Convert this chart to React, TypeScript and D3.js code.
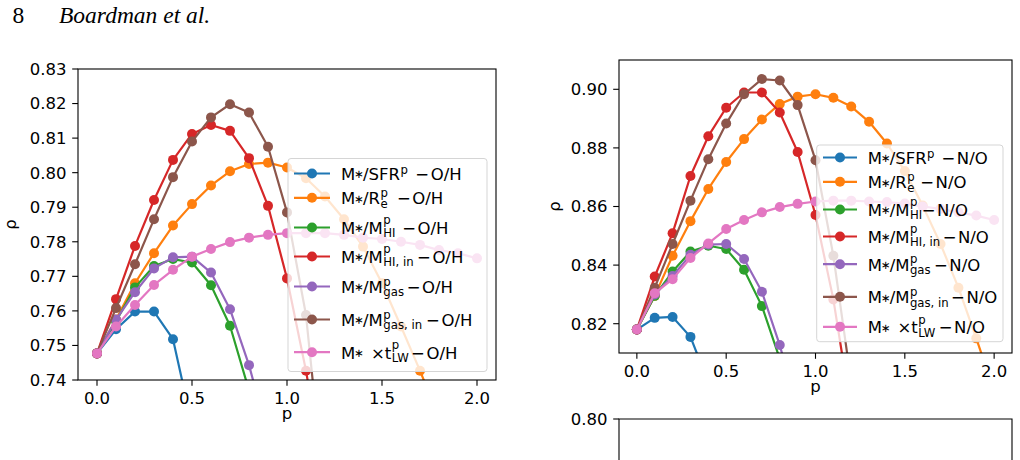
import React from 'react';
import * as d3 from 'd3';

// ---------------- data ----------------
const P = [0.0, 0.1, 0.2, 0.3, 0.4, 0.5, 0.6, 0.7, 0.8, 0.9, 1.0, 1.1, 1.2, 1.3, 1.4, 1.5, 1.6, 1.7, 1.8, 1.9, 2.0];

// O/H panel (values below the axis floor are only kept up to the first clipped point)
const OH_SFR = [0.7477, 0.7547, 0.7598, 0.7598, 0.7518, 0.727, 0.70];
const OH_RE = [0.7477, 0.7575, 0.768, 0.7767, 0.7847, 0.7909, 0.7963, 0.8004, 0.8025, 0.8029, 0.8015, 0.7984, 0.7931, 0.7865, 0.7786, 0.768, 0.7555, 0.7427, 0.729];
const OH_HI = [0.7477, 0.757, 0.7668, 0.773, 0.775, 0.774, 0.7674, 0.7557, 0.737, 0.715];
const OH_HIIN = [0.7477, 0.7634, 0.7788, 0.7921, 0.8037, 0.8112, 0.8138, 0.8121, 0.8042, 0.7904, 0.7694, 0.7427, 0.71];
const OH_GAS = [0.7477, 0.7575, 0.7654, 0.7723, 0.7755, 0.7757, 0.7711, 0.7605, 0.7443, 0.724];
const OH_GASIN = [0.7477, 0.7608, 0.7735, 0.7865, 0.7987, 0.809, 0.816, 0.8198, 0.8174, 0.8075, 0.7885, 0.7588, 0.705];
const OH_TLW = [0.7477, 0.7555, 0.7617, 0.7675, 0.7719, 0.7757, 0.7779, 0.7799, 0.7812, 0.782, 0.7825, 0.7825, 0.7825, 0.782, 0.7812, 0.7808, 0.78, 0.7791, 0.7776, 0.7767, 0.7752];

// N/O panel
const NO_SFR = [0.818, 0.822, 0.8223, 0.8155, 0.80, 0.785];
const NO_RE = [0.818, 0.8295, 0.8432, 0.855, 0.866, 0.8752, 0.883, 0.8897, 0.895, 0.8975, 0.8983, 0.8971, 0.8941, 0.8889, 0.8815, 0.8721, 0.8603, 0.8472, 0.8323, 0.815, 0.797];
const NO_HI = [0.818, 0.8295, 0.8378, 0.8446, 0.8466, 0.8455, 0.8384, 0.826, 0.808, 0.785];
const NO_HIIN = [0.818, 0.8361, 0.8509, 0.8704, 0.884, 0.8937, 0.8989, 0.8989, 0.8921, 0.8786, 0.8571, 0.8283, 0.79];
const NO_GAS = [0.818, 0.83, 0.8363, 0.8435, 0.847, 0.8472, 0.8421, 0.8309, 0.8127, 0.79];
const NO_GASIN = [0.818, 0.8323, 0.8472, 0.862, 0.8761, 0.8883, 0.8983, 0.9035, 0.903, 0.8946, 0.8758, 0.8432, 0.80];
const NO_TLW = [0.818, 0.8304, 0.8352, 0.8424, 0.8474, 0.8523, 0.8554, 0.858, 0.8598, 0.8609, 0.8617, 0.862, 0.862, 0.8617, 0.8615, 0.861, 0.86, 0.8592, 0.858, 0.8569, 0.8554];

const OH_SERIES = [OH_SFR, OH_RE, OH_HI, OH_HIIN, OH_GAS, OH_GASIN, OH_TLW];
const NO_SERIES = [NO_SFR, NO_RE, NO_HI, NO_HIIN, NO_GAS, NO_GASIN, NO_TLW];

const COLORS = ['#1f77b4', '#ff7f0e', '#2ca02c', '#d62728', '#9467bd', '#8c564b', '#e377c2'];

const X_TICKS = [0.0, 0.5, 1.0, 1.5, 2.0];
const OH_Y_TICKS = [0.74, 0.75, 0.76, 0.77, 0.78, 0.79, 0.80, 0.81, 0.82, 0.83];
const NO_Y_TICKS = [0.82, 0.84, 0.86, 0.88, 0.90];
const LOWER_Y_TICKS = [0.80];

type Tok = { k: 'n'; t: string } | { k: 'ast' } | { k: 'times' } | { k: 's'; sup: string; sub?: string };
const LABEL_TOKENS: Tok[][] = [
  [{ k: 'n', t: 'M' }, { k: 'ast' }, { k: 'n', t: '/SFR' }, { k: 's', sup: 'p' }],
  [{ k: 'n', t: 'M' }, { k: 'ast' }, { k: 'n', t: '/R' }, { k: 's', sup: 'p', sub: 'e' }],
  [{ k: 'n', t: 'M' }, { k: 'ast' }, { k: 'n', t: '/M' }, { k: 's', sup: 'p', sub: 'HI' }],
  [{ k: 'n', t: 'M' }, { k: 'ast' }, { k: 'n', t: '/M' }, { k: 's', sup: 'p', sub: 'HI, in' }],
  [{ k: 'n', t: 'M' }, { k: 'ast' }, { k: 'n', t: '/M' }, { k: 's', sup: 'p', sub: 'gas' }],
  [{ k: 'n', t: 'M' }, { k: 'ast' }, { k: 'n', t: '/M' }, { k: 's', sup: 'p', sub: 'gas, in' }],
  [{ k: 'n', t: 'M' }, { k: 'ast' }, { k: 'times' }, { k: 'n', t: 't' }, { k: 's', sup: 'p', sub: 'LW' }],
];

// ---------------- layout ----------------
const W = 1020;
const H = 460;
const FONT = '"DejaVu Sans", sans-serif';
const FS = 16.5;
const SFS = 11.7;
const LW = 2.2;
const MR = 5;
const TICK = 5.8;
const PAD = 5.8;

let _ctx: CanvasRenderingContext2D | null = null;
function tw(s: string, size: number): number {
  if (!_ctx) _ctx = document.createElement('canvas').getContext('2d');
  if (!_ctx) return s.length * size * 0.6;
  _ctx.font = `${size}px "DejaVu Sans"`;
  return _ctx.measureText(s).width;
}

function renderLabel(tokens: Tok[], suffix: string, gap: number, x: number, y: number, key: string) {
  const out: React.ReactNode[] = [];
  let cx = x;
  tokens.forEach((tok, i) => {
    if (tok.k === 'n') {
      out.push(<text key={key + i} x={cx} y={y} fontSize={FS}>{tok.t}</text>);
      cx += tw(tok.t, FS);
    } else if (tok.k === 'ast') {
      out.push(<text key={key + i} x={cx + 3.9} y={y - 1.6} fontSize={SFS} textAnchor="middle">∗</text>);
      cx += 7.7;
    } else if (tok.k === 'times') {
      cx += 7.9;
      out.push(<text key={key + i} x={cx} y={y} fontSize={FS}>×</text>);
      cx += tw('×', FS);
    } else {
      const hasSub = !!tok.sub;
      const capsSub = hasSub && /[A-Z]/.test(tok.sub as string);
      const raise = hasSub ? (capsSub ? 9.8 : 7.4) : 5.8;
      const sx = cx + 0.5;
      out.push(<text key={key + i + 'p'} x={sx} y={y - raise} fontSize={SFS}>{tok.sup}</text>);
      let w = tw(tok.sup, SFS);
      if (hasSub) {
        out.push(<text key={key + i + 'b'} x={sx} y={y + 3.2} fontSize={SFS}>{tok.sub}</text>);
        w = Math.max(w, tw(tok.sub as string, SFS));
      }
      cx = sx + w;
    }
  });
  cx += gap;
  out.push(<text key={key + 'm'} x={cx} y={y} fontSize={FS}>−</text>);
  cx += tw('−', FS) + 1.5;
  out.push(<text key={key + 's'} x={cx} y={y} fontSize={FS}>{suffix}</text>);
  return out;
}

type LegendSpec = {
  x0: number; x1: number; y0: number; y1: number;
  hx0: number; hx1: number; tx: number;
  baselines: number[]; gaps: number[];
};

type PanelProps = {
  id: string;
  x0: number; x1: number; y0: number; y1: number;
  yDomain: [number, number];
  yTicks: number[];
  series: number[][];
  suffix: string;
  legend: LegendSpec;
  ylabelX: number;
  xlabelY: number;
};

function Panel(props: PanelProps) {
  const { id, x0, x1, y0, y1, yDomain, yTicks, series, suffix, legend, ylabelX, xlabelY } = props;
  const x = d3.scaleLinear().domain([-0.1, 2.1]).range([x0, x1]);
  const y = d3.scaleLinear().domain(yDomain).range([y1, y0]);
  const line = d3.line<number>().x((_, i) => x(P[i])).y((d) => y(d));
  const yFmt = d3.format('.2f');
  const xFmt = d3.format('.1f');
  return (
    <g fontFamily={FONT} fill="#000">
      <defs>
        <clipPath id={id}>
          <rect x={x0} y={y0} width={x1 - x0} height={y1 - y0} />
        </clipPath>
      </defs>
      <g clipPath={`url(#${id})`}>
        {series.map((s, si) => (
          <g key={si}>
            <path d={line(s) || ''} fill="none" stroke={COLORS[si]} strokeWidth={LW} strokeLinejoin="round" />
            {s.map((v, i) => (
              <circle key={i} cx={x(P[i])} cy={y(v)} r={MR} fill={COLORS[si]} />
            ))}
          </g>
        ))}
      </g>
      {/* legend */}
      <rect x={legend.x0} y={legend.y0} width={legend.x1 - legend.x0} height={legend.y1 - legend.y0}
        rx={3} ry={3} fill="#fff" fillOpacity={0.8} stroke="#d5d5d5" strokeWidth={1} />
      {series.map((_, si) => {
        const b = legend.baselines[si];
        const my = b - 6.5;
        return (
          <g key={'lg' + si}>
            <line x1={legend.hx0} x2={legend.hx1} y1={my} y2={my} stroke={COLORS[si]} strokeWidth={LW} />
            <circle cx={(legend.hx0 + legend.hx1) / 2} cy={my} r={MR} fill={COLORS[si]} />
            {renderLabel(LABEL_TOKENS[si], suffix, legend.gaps[si], legend.tx, b, 'l' + si)}
          </g>
        );
      })}
      {/* spines */}
      <rect x={x0} y={y0} width={x1 - x0} height={y1 - y0} fill="none" stroke="#000" strokeWidth={1.1} />
      {/* x ticks */}
      {X_TICKS.map((t) => (
        <g key={'x' + t}>
          <line x1={x(t)} x2={x(t)} y1={y1} y2={y1 + TICK} stroke="#000" strokeWidth={1.1} />
          <text x={x(t)} y={y1 + TICK + PAD + 12.2} fontSize={FS} textAnchor="middle">{xFmt(t)}</text>
        </g>
      ))}
      {/* y ticks */}
      {yTicks.map((t) => (
        <g key={'y' + t}>
          <line x1={x0 - TICK} x2={x0} y1={y(t)} y2={y(t)} stroke="#000" strokeWidth={1.1} />
          <text x={x0 - TICK - PAD} y={y(t)} dy="0.36em" fontSize={FS} textAnchor="end">{yFmt(t)}</text>
        </g>
      ))}
      <text x={(x0 + x1) / 2} y={xlabelY} fontSize={FS} textAnchor="middle">p</text>
      <text transform={`translate(${ylabelX},${(y0 + y1) / 2}) rotate(-90)`} fontSize={FS} textAnchor="middle">ρ</text>
    </g>
  );
}

function LowerPanel() {
  const x0 = 619, x1 = 1012, y0 = 419;
  const y = d3.scaleLinear().domain([0.70, 0.80]).range([y0 + 300, y0]);
  const yFmt = d3.format('.2f');
  return (
    <g fontFamily={FONT}>
      <path d={`M${x0},${H + 5}V${y0}H${x1}V${H + 5}`} fill="none" stroke="#000" strokeWidth={1.1} />
      {LOWER_Y_TICKS.map((t) => (
        <g key={t}>
          <line x1={x0 - TICK} x2={x0} y1={y(t)} y2={y(t)} stroke="#000" strokeWidth={1.1} />
          <text x={x0 - TICK - PAD} y={y(t)} dy="0.36em" fontSize={FS} textAnchor="end">{yFmt(t)}</text>
        </g>
      ))}
    </g>
  );
}

const LEFT_LEGEND: LegendSpec = {
  x0: 288, x1: 487, y0: 158.5, y1: 371.5,
  hx0: 294, hx1: 330, tx: 341.1,
  baselines: [180, 204.3, 234, 263, 293, 326, 358.7],
  gaps: [7.4, 9, 6.7, 3.4, 2.7, 4, 2.4],
};
const RIGHT_LEGEND: LegendSpec = {
  x0: 816.7, x1: 1003, y0: 145, y1: 341.7,
  hx0: 823, hx1: 857, tx: 867.7,
  baselines: [164, 188.3, 216, 243, 270.7, 303.3, 333.3],
  gaps: [7, 5.7, -0.5, 2.4, 3.4, 2.4, 3.4],
};

export default function App() {
  return (
    <svg width={W} height={H} viewBox={`0 0 ${W} ${H}`}
      style={{ position: 'absolute', left: 0, top: 0, background: '#fff' }}>
      <rect x={0} y={0} width={W} height={H} fill="#fff" />
      <text x={12.5} y={23} fontFamily='"Liberation Serif", serif' fontSize={23.5}>8</text>
      <text x={59} y={23} fontFamily='"Liberation Serif", serif' fontSize={23.5} fontStyle="italic">Boardman et al.</text>
      <Panel id="clipL" x0={78} x1={496} y0={69} y1={380} yDomain={[0.74, 0.83]} yTicks={OH_Y_TICKS}
        series={OH_SERIES} suffix="O/H" legend={LEFT_LEGEND} ylabelX={16} xlabelY={418.5} />
      <Panel id="clipR" x0={619} x1={1012} y0={60} y1={353} yDomain={[0.81, 0.91]} yTicks={NO_Y_TICKS}
        series={NO_SERIES} suffix="N/O" legend={RIGHT_LEGEND} ylabelX={560} xlabelY={391.5} />
      <LowerPanel />
    </svg>
  );
}
